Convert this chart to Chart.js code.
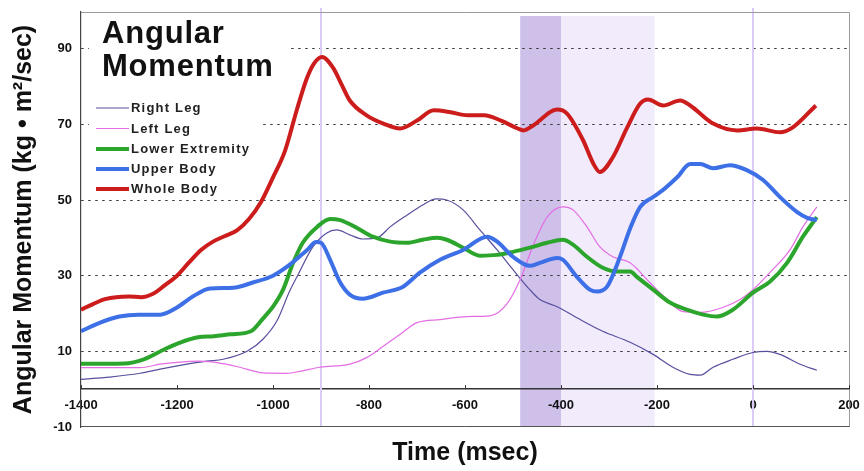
<!DOCTYPE html>
<html><head><meta charset="utf-8">
<script src="https://cdn.jsdelivr.net/npm/chart.js@4.4.0/dist/chart.umd.min.js"></script>
<style>html,body{margin:0;padding:0;background:#fff;}#wrap{width:864px;height:471px;position:relative}</style>
</head><body><div id="wrap"><canvas id="c" width="864" height="471"></canvas></div>
<script>
const FONT = '"Liberation Sans", Arial, Helvetica, sans-serif';
const chartTitleLines = ['Angular', 'Momentum'];
const xAxisTitle = 'Time (msec)';
const yAxisTitle = 'Angular Momentum (kg \u2022 m\u00b2/sec)';
const xTicks = [-1400, -1200, -1000, -800, -600, -400, -200, 0, 200];
const yTicks = [-10, 10, 30, 50, 70, 90];
const seriesNames = ['Right Leg', 'Left Leg', 'Lower Extremity', 'Upper Body', 'Whole Body'];
const bandDark = [-485, -400];
const bandLight = [-400, -205];
const markerTimes = [-900, 0];

const rightLegT = [-1400,-1340,-1277,-1235,-1188,-1138,-1104,-1054,-1021,-992,-965,-950,-917,-888,-867,-840,-813,-783,-756,-721,-688,-660,-638,-604,-569,-533,-500,-465,-444,-408,-360,-313,-256,-208,-167,-131,-110,-83,-42,0,29,56,98,133];
const rightLegV = [2.6,3.2,4.2,5.3,6.4,7.4,7.9,10,13.2,18,26,29.7,37.6,41.3,42.1,40.8,39.7,40,42.9,46,48.7,50.3,50,47.4,42.1,36.8,31.6,26.3,23.7,21.8,18.4,15.3,12.4,9.2,5.8,3.9,3.7,5.8,7.9,9.7,10,9.2,6.6,5];

const leftLegT = [-1400,-1277,-1235,-1200,-1152,-1117,-1069,-1021,-971,-944,-902,-840,-804,-771,-735,-700,-652,-596,-548,-513,-485,-458,-429,-396,-375,-346,-319,-292,-256,-215,-179,-146,-110,-63,-27,0,35,77,104,133];
const leftLegV = [5.7,5.7,6.6,7.1,7.4,7.0,5.8,4.3,4.2,4.7,5.8,6.6,8.4,11.3,14.5,17.6,18.4,19.2,19.4,22.5,29,38,45.5,48.2,47.4,42.9,37.6,35,33.4,28.2,23.7,20.5,20.3,21.6,23.7,26.3,30.8,36.8,42.9,48.2];

const lowerT = [-1400,-1310,-1269,-1227,-1192,-1156,-1123,-1088,-1046,-1020,-1000,-979,-958,-938,-908,-881,-860,-825,-792,-756,-721,-688,-658,-638,-604,-569,-533,-500,-465,-429,-396,-375,-346,-313,-283,-256,-242,-208,-173,-138,-104,-75,-42,0,35,71,104,133];
const lowerV = [6.7,6.8,7.9,10.5,12.4,13.7,14.0,14.5,15.3,18.8,21.8,26.3,33.4,38.7,42.9,45,44.7,42.6,40.3,39,38.7,39.5,40,39.5,37.4,35.3,35.5,36.3,37.4,38.7,39.5,38.2,35,32.1,31.1,31.1,29.7,26.3,22.9,21,19.7,19.2,21,25.5,28.4,33.4,40.3,45.5];

const upperT = [-1400,-1360,-1320,-1280,-1235,-1200,-1167,-1131,-1083,-1042,-1000,-965,-929,-910,-900,-881,-860,-840,-813,-771,-729,-694,-652,-604,-554,-533,-500,-465,-444,-408,-396,-367,-340,-325,-304,-277,-256,-235,-208,-188,-158,-131,-110,-83,-48,-13,21,56,92,113,133];
const upperV = [15.3,17.6,19.2,19.7,19.7,21.6,24.5,26.6,26.8,28.2,30,32.9,36.8,38.9,38.7,34.2,28.2,25,23.9,25.5,27.1,30.8,34.2,36.8,40.3,39,35,32.6,33.4,34.7,34.2,29.7,26.3,25.8,27.1,35,42.5,48.2,50.8,52.6,56,59.5,59.5,58.4,59.2,57.9,55.3,50.8,46.8,45.3,44.7];

const wholeT = [-1400,-1375,-1350,-1300,-1275,-1250,-1225,-1200,-1175,-1150,-1125,-1100,-1075,-1050,-1025,-1000,-975,-950,-930,-915,-898,-875,-857,-840,-805,-770,-735,-700,-665,-630,-595,-560,-525,-490,-478,-458,-408,-388,-354,-333,-319,-292,-262,-235,-219,-187,-152,-131,-83,-33,8,56,83,131];
const wholeV = [21,22.5,23.8,24.5,24.3,25.2,27.5,30,33.5,36.8,39,40.5,42,45,49.5,56,63,74,82,86,87.8,85,80.5,76.3,72.4,70.2,68.9,71,73.7,73.2,72.4,72.4,71,68.9,68.4,69.7,73.9,72.9,65.8,59.7,57.4,61.3,69.2,75.5,76.6,75,76.3,75,70.2,68.4,68.9,67.9,69.2,75];

const seriesColors = ['#57509e', '#e46de4', '#2ca52c', '#3d6fe6', '#cc1c1c'];
const seriesWidths = [1.2, 1.2, 4, 4, 4];

const seriesT = [rightLegT, leftLegT, lowerT, upperT, wholeT];
const seriesV = [rightLegV, leftLegV, lowerV, upperV, wholeV];

const datasets = seriesNames.map((name, i) => ({
  label: name,
  data: seriesT[i].map((t, j) => ({x: t, y: seriesV[i][j]})),
  borderColor: seriesColors[i],
  backgroundColor: seriesColors[i],
  borderWidth: seriesWidths[i],
  pointRadius: 0,
  fill: false,
  cubicInterpolationMode: 'monotone',
  order: 4 - i
}));

const decor = {
  id: 'decor',
  beforeDraw(chart) {
    const {ctx, chartArea: a, scales: {x, y}} = chart;
    ctx.save();
    const top = a.top + 4, bot = a.bottom;
    const lx0 = x.getPixelForValue(bandLight[0]), lx1 = x.getPixelForValue(bandLight[1]);
    ctx.fillStyle = '#f2ebfc';
    ctx.fillRect(lx0, top, lx1 - lx0, bot - top);
    const dx0 = x.getPixelForValue(bandDark[0]), dx1 = x.getPixelForValue(bandDark[1]);
    ctx.fillStyle = '#cfc0ea';
    ctx.fillRect(dx0, top, dx1 - dx0, bot - top);
    ctx.restore();
  },
  beforeDatasetsDraw(chart) {
    const {ctx, chartArea: a, scales: {x, y}} = chart;
    ctx.save();
    // marker lines
    ctx.strokeStyle = '#dccbf7';
    ctx.lineWidth = 2;
    markerTimes.forEach(t => {
      const px = Math.round(x.getPixelForValue(t));
      ctx.beginPath(); ctx.moveTo(px, a.top - 4); ctx.lineTo(px, a.bottom); ctx.stroke();
    });
    // frame
    ctx.lineWidth = 1;
    ctx.strokeStyle = '#9a9a9a';
    ctx.beginPath();
    ctx.moveTo(a.left, a.top + 0.5); ctx.lineTo(a.right + 0.5, a.top + 0.5); ctx.lineTo(a.right + 0.5, a.bottom);
    ctx.stroke();
    ctx.strokeStyle = '#555';
    ctx.beginPath(); ctx.moveTo(a.left, a.bottom - 0.5); ctx.lineTo(a.right + 0.5, a.bottom - 0.5); ctx.stroke();
    // small x tick marks above the zero axis
    const y0 = y.getPixelForValue(0);
    ctx.strokeStyle = '#333';
    xTicks.forEach(t => {
      const px = Math.round(x.getPixelForValue(t)) + 0.5;
      ctx.beginPath(); ctx.moveTo(px, y0 - 4); ctx.lineTo(px, y0); ctx.stroke();
    });
    // white boxes behind title and legend
    ctx.fillStyle = '#fff';
    ctx.fillRect(a.left + 8, a.top + 3, 202, 78);
    ctx.fillRect(a.left + 8, a.top + 84, 170, 102);
    // title
    ctx.fillStyle = '#111';
    ctx.font = 'bold 31px ' + FONT;
    ctx.textBaseline = 'alphabetic';
    ctx.textAlign = 'left';
    try { ctx.letterSpacing = '0.8px'; } catch (e) {}
    ctx.fillText(chartTitleLines[0], 102, 43);
    ctx.fillText(chartTitleLines[1], 102, 76);
    // legend
    ctx.font = 'bold 13px ' + FONT;
    try { ctx.letterSpacing = '1.2px'; } catch (e) {}
    ctx.textBaseline = 'middle';
    const ly = [108, 128.5, 149, 169, 189];
    chart.data.datasets.forEach((ds, i) => {
      ctx.strokeStyle = ds.borderColor;
      ctx.lineWidth = ds.borderWidth;
      ctx.beginPath(); ctx.moveTo(96, ly[i]); ctx.lineTo(129, ly[i]); ctx.stroke();
      ctx.fillStyle = '#222';
      ctx.fillText(ds.label, 131, ly[i] + 0.5);
    });
    ctx.restore();
  }
};

new Chart(document.getElementById('c'), {
  type: 'line',
  data: {datasets},
  plugins: [decor],
  options: {
    responsive: false,
    animation: false,
    devicePixelRatio: 1,
    layout: {padding: {left: 0, right: 15, top: 12, bottom: 0}},
    plugins: {
      legend: {display: false},
      tooltip: {enabled: false},
      title: {
        display: true, position: 'bottom', fullSize: false,
        text: xAxisTitle, color: '#111',
        font: {family: FONT, size: 25, weight: 'bold'},
        padding: {top: 11, bottom: 3}
      }
    },
    scales: {
      x: {
        type: 'linear', min: -1400, max: 200,
        position: {y: 0},
        afterBuildTicks: s => { s.ticks = xTicks.map(v => ({value: v})); },
        afterFit: s => { s.paddingLeft = 0; s.paddingRight = 0; },
        grid: {drawOnChartArea: false, drawTicks: false},
        border: {display: true, color: '#333', width: 1.5},
        ticks: {padding: 8, color: '#111', font: {family: FONT, size: 13, weight: 'bold'}, maxRotation: 0, autoSkip: false, callback: v => String(v)}
      },
      y: {
        type: 'linear', min: -10, max: 99.7,
        afterBuildTicks: s => { s.ticks = yTicks.map(v => ({value: v})); },
        afterFit: s => { s.width = 81; s.paddingTop = 0; s.paddingBottom = 0; },
        grid: {
          drawTicks: false,
          color: c => (c.tick && c.tick.value === -10) ? 'rgba(0,0,0,0)' : '#3a3a3a',
          lineWidth: 1
        },
        border: {display: true, color: '#444', width: 1.2, dash: [2.5, 4.5]},
        ticks: {padding: 9, color: '#111', font: {family: FONT, size: 13, weight: 'bold'}, callback: v => String(v)},
        title: {display: true, text: yAxisTitle, color: '#111', font: {family: FONT, size: 25, weight: 'bold'}, padding: {top: 9, bottom: 0}}
      }
    }
  }
});
</script></body></html>
